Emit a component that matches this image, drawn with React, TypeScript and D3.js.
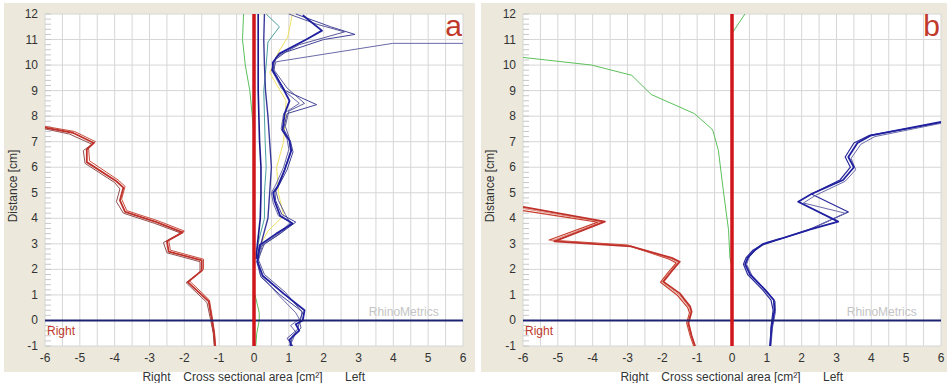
import React from 'react';
import * as d3 from 'd3';

// each trace: [distance (cm), cross sectional area (cm²)]
type Pt = [number, number];

const xTicks = [-6, -5, -4, -3, -2, -1, 0, 1, 2, 3, 4, 5, 6];
const yTicks = [-1, 0, 1, 2, 3, 4, 5, 6, 7, 8, 9, 10, 11, 12];

// ---- panel a ----
const redA1: Pt[] = [[7.55, -6], [7.35, -5.2], [6.95, -4.6], [6.7, -4.8], [6.2, -4.8], [5.45, -3.95], [5.2, -3.75], [4.7, -3.85], [4.25, -3.7], [3.85, -2.8], [3.45, -2.05], [3.1, -2.5], [2.7, -2.45], [2.35, -1.5], [1.95, -1.5], [1.5, -1.9], [0.75, -1.3], [0.1, -1.22], [-0.5, -1.15], [-1, -1.12]];
const redA2: Pt[] = [[7.5, -6], [7.3, -5.3], [6.9, -4.65], [6.65, -4.9], [6.15, -4.85], [5.4, -4.0], [5.15, -3.85], [4.65, -3.95], [4.2, -3.75], [3.8, -2.85], [3.42, -2.1], [3.05, -2.6], [2.65, -2.5], [2.3, -1.55], [1.9, -1.55], [1.48, -1.95], [0.7, -1.35], [0.05, -1.25], [-0.5, -1.17], [-1, -1.14]];
const redA3: Pt[] = [[7.6, -6], [7.4, -5.15], [7.0, -4.55], [6.75, -4.75], [6.25, -4.72], [5.5, -3.9], [5.25, -3.7], [4.75, -3.8], [4.3, -3.65], [3.9, -2.75], [3.5, -2.0], [3.15, -2.45], [2.75, -2.4], [2.4, -1.45], [2.0, -1.45], [1.55, -1.85], [0.8, -1.28], [0.15, -1.2], [-0.5, -1.13], [-1, -1.1]];

const blueA1: Pt[] = [[-1, 1.07], [-0.75, 1.02], [-0.4, 1.3], [-0.15, 1.2], [0, 1.4], [0.4, 1.45], [1.05, 0.85], [1.75, 0.25], [2.3, 0.1], [2.95, 0.16], [3.4, 0.64], [3.8, 1.11], [4.1, 0.75], [4.65, 0.6], [5.0, 0.55], [5.25, 0.68], [5.9, 0.88], [6.65, 1.07], [7.05, 1.02], [7.45, 0.82], [8.1, 0.88], [8.6, 1.02], [9.1, 0.83], [9.8, 0.54], [10.1, 0.54], [10.45, 0.73], [11.0, 1.5], [11.35, 1.95], [11.95, 1.4]];
const blueA2: Pt[] = [[-1, 1.12], [-0.7, 0.95], [-0.35, 1.25], [-0.1, 1.3], [0.1, 1.35], [0.35, 1.38], [1.0, 0.75], [1.7, 0.2], [2.3, 0.08], [2.9, 0.2], [3.35, 0.7], [3.85, 1.2], [4.15, 0.8], [4.7, 0.62], [5.0, 0.6], [5.3, 0.72], [5.9, 0.95], [6.6, 1.12], [7.0, 1.05], [7.5, 0.85], [8.1, 0.95], [8.45, 1.8], [9.0, 0.9], [9.8, 0.5], [10.2, 0.6], [10.5, 0.9], [11.0, 2.0], [11.2, 2.9], [11.5, 2.2], [12, 1.2]];
const blueA3: Pt[] = [[-1, 1.0], [-0.8, 1.1], [-0.45, 1.2], [-0.2, 1.05], [0.05, 1.3], [0.3, 1.2], [1.0, 0.7], [1.8, 0.18], [2.3, 0.12], [3.0, 0.25], [3.45, 0.75], [3.85, 1.05], [4.1, 0.7], [4.6, 0.55], [5.0, 0.5], [5.3, 0.62], [6.0, 0.85], [6.7, 1.0], [7.1, 0.95], [7.5, 0.78], [8.1, 0.85], [8.5, 1.3], [9.1, 0.78], [9.8, 0.52], [10.13, 0.64], [10.85, 3.98], [10.85, 6]];
const blueA4: Pt[] = [[-1, 1.05], [-0.6, 1.1], [-0.3, 1.35], [0, 1.3], [0.3, 1.4], [1.1, 0.9], [1.8, 0.3], [2.4, 0.12], [3.0, 0.3], [3.45, 0.8], [3.8, 1.05], [4.15, 0.9], [4.7, 0.7], [5.1, 0.62], [5.4, 0.75], [6.0, 0.9], [6.6, 1.05], [7.2, 1.0], [7.6, 0.9], [8.2, 1.0], [8.5, 1.45], [9.1, 0.95], [9.8, 0.58], [10.3, 0.62], [10.8, 1.3], [11.3, 2.6], [11.6, 1.8], [12, 1.0]];
const blueA5: Pt[] = [[2.4, 0.06], [3.0, 0.1], [4.0, 0.18], [5.0, 0.2], [6.0, 0.2], [7.0, 0.16], [8.0, 0.14], [9.0, 0.12], [10.0, 0.12], [11.0, 0.12], [12, 0.12]];
const blueA6: Pt[] = [[2.4, 0.08], [3.0, 0.2], [4.0, 0.4], [5.0, 0.45], [6.0, 0.5], [7.0, 0.45], [8.0, 0.4], [9.0, 0.33], [10.0, 0.3], [11.0, 0.28], [12, 0.3]];
const tealA: Pt[] = [[2.6, 0.05], [3.2, 0.15], [4.0, 0.3], [5.0, 0.3], [6.0, 0.35], [7.0, 0.32], [8.0, 0.3], [9.0, 0.28], [10.0, 0.35], [10.9, 0.4], [11.5, 0.73], [12, 0.35]];
const greenA: Pt[] = [[7.3, 0.0], [8.0, -0.05], [9.0, -0.12], [10.0, -0.25], [11.0, -0.33], [12, -0.3]];
const greenA2: Pt[] = [[-1, 0.05], [-0.5, 0.08], [0, 0.15], [0.3, 0.15], [0.6, 0.1], [1.0, 0.03]];
const yellowA: Pt[] = [[2.5, 0.1], [3.0, 0.2], [3.5, 0.4], [4.1, 0.85], [5.0, 0.7], [6.0, 0.65], [7.0, 0.85], [8.0, 0.9], [8.6, 0.92], [9.0, 0.75], [9.7, 0.45], [10.5, 0.7], [11.1, 0.97], [12, 1.1]];

// ---- panel b ----
const redB1: Pt[] = [[4.45, -6], [3.87, -3.65], [3.1, -5.1], [2.9, -2.9], [2.45, -1.73], [2.3, -1.5], [1.9, -1.75], [1.52, -1.97], [1.06, -1.5], [0.54, -1.2], [0.34, -1.16], [-0.1, -1.25], [-0.6, -1.16], [-1, -1.06]];
const redB2: Pt[] = [[4.3, -6], [3.85, -3.85], [3.15, -5.25], [2.95, -3.0], [2.4, -1.8], [2.25, -1.6], [1.85, -1.85], [1.5, -2.05], [1.0, -1.58], [0.5, -1.27], [0.3, -1.22], [-0.1, -1.3], [-0.6, -1.2], [-1, -1.1]];
const redB3: Pt[] = [[4.38, -6], [3.86, -3.75], [3.12, -5.18], [2.92, -2.95], [2.42, -1.76], [2.28, -1.55], [1.88, -1.8], [1.51, -2.0], [1.03, -1.54], [0.52, -1.23], [0.32, -1.19], [-0.1, -1.27], [-0.6, -1.18], [-1, -1.08]];

const blueB1: Pt[] = [[-1, 1.09], [-0.25, 1.14], [0.4, 1.22], [0.8, 1.2], [1.2, 0.95], [1.8, 0.52], [2.2, 0.38], [2.45, 0.45], [2.75, 0.65], [3.0, 0.9], [3.2, 1.4], [3.55, 2.2], [3.87, 3.05], [4.65, 1.9], [4.95, 2.28], [5.5, 3.19], [6.0, 3.5], [6.4, 3.34], [6.95, 3.6], [7.25, 4.0], [7.78, 6]];
const blueB2: Pt[] = [[-1, 1.1], [-0.25, 1.12], [0.4, 1.18], [0.8, 1.12], [1.2, 0.88], [1.8, 0.45], [2.2, 0.33], [2.45, 0.4], [2.75, 0.6], [2.95, 0.85], [3.15, 1.3], [3.54, 2.19], [4.25, 3.34], [4.95, 2.28], [5.5, 3.1], [6.0, 3.4], [6.4, 3.25], [6.95, 3.5], [7.25, 3.95], [7.75, 6]];
const blueB3: Pt[] = [[-1, 1.12], [-0.3, 1.16], [0.35, 1.25], [0.75, 1.24], [1.15, 1.0], [1.75, 0.58], [2.2, 0.42], [2.5, 0.5], [2.8, 0.72], [3.05, 1.0], [3.25, 1.5], [3.6, 2.3], [4.2, 3.25], [4.6, 2.05], [4.9, 2.4], [5.45, 3.25], [5.9, 3.55], [6.35, 3.42], [6.9, 3.7], [7.2, 4.1], [7.72, 6]];
const greenB: Pt[] = [[2.0, 0.02], [2.45, -0.06], [3.55, -0.1], [5.1, -0.25], [6.65, -0.39], [7.4, -0.54], [7.5, -0.58], [8.1, -1.08], [8.85, -2.32], [9.6, -2.88], [10.0, -4.03], [10.3, -6]];
const greenB2: Pt[] = [[11.3, 0.03], [12, 0.37]];

const FONT = "'Liberation Sans', Arial, sans-serif";

type Trace = { pts: Pt[]; color: string; width: number };

const tracesA: Trace[] = [
  { pts: greenA, color: '#5cc05c', width: 1 },
  { pts: greenA2, color: '#5cc05c', width: 1 },
  { pts: tealA, color: '#4aa0a0', width: 1 },
  { pts: yellowA, color: '#f0e060', width: 1 },
  { pts: blueA5, color: '#1a1a8a', width: 1.6 },
  { pts: blueA6, color: '#3a3a9a', width: 1.4 },
  { pts: blueA3, color: '#6a6aa8', width: 1 },
  { pts: blueA4, color: '#5a5a9a', width: 1 },
  { pts: blueA2, color: '#44449a', width: 1 },
  { pts: blueA1, color: '#1f1fa0', width: 1.8 },
  { pts: redA2, color: '#905050', width: 1 },
  { pts: redA3, color: '#c85040', width: 1 },
  { pts: redA1, color: '#c0302a', width: 1.8 },
];

const tracesB: Trace[] = [
  { pts: greenB, color: '#5cc05c', width: 1 },
  { pts: greenB2, color: '#5cc05c', width: 1 },
  { pts: redB2, color: '#c84030', width: 1.2 },
  { pts: redB3, color: '#e09080', width: 1 },
  { pts: redB1, color: '#c0302a', width: 1.8 },
  { pts: blueB2, color: '#2a2a9a', width: 1.2 },
  { pts: blueB3, color: '#6a6aa8', width: 1 },
  { pts: blueB1, color: '#1f1fa0', width: 1.8 },
];

type PanelProps = { x0: number; x1: number; plotL: number; plotR: number; tag: string; traces: Trace[] };

const Panel = ({ x0, x1, plotL, plotR, tag, traces }: PanelProps) => {
  const top = 14;
  const bottom = 346;
  const xs = d3.scaleLinear().domain([-6, 6]).range([plotL, plotR]);
  const ys = d3.scaleLinear().domain([-1, 12]).range([bottom, top]);
  const line = d3.line<Pt>().x(d => xs(d[1])).y(d => ys(d[0]));
  const halfTicks = d3.range(-6, 6.01, 0.5);
  const minor = d3.range(-1, 12.001, 0.2);
  const cx = (plotL + plotR) / 2;

  return (
    <g>
      <rect x={x0} y={3} width={x1 - x0} height={369} fill="#ece9dc" />
      <rect x={plotL} y={top} width={plotR - plotL} height={bottom - top} fill="#ffffff" />
      {halfTicks.map(v => (
        <line key={'v' + v} x1={xs(v)} x2={xs(v)} y1={top} y2={bottom} stroke="#d6d6d6" strokeWidth={1} />
      ))}
      {yTicks.map(v => (
        <line key={'h' + v} x1={plotL} x2={plotR} y1={ys(v)} y2={ys(v)} stroke="#d6d6d6" strokeWidth={1} />
      ))}
      {minor.map((v, i) => (
        <line key={'m' + i} x1={plotL} x2={plotL + 6} y1={ys(v)} y2={ys(v)} stroke="#c8c8c8" strokeWidth={1} />
      ))}
      <text x={xs(4.3)} y={ys(0) - 4} fill="#c4c4c4" fontSize={12} fontFamily={FONT} textAnchor="middle">RhinoMetrics</text>
      {traces.map((t, i) => (
        <path key={i} d={line(t.pts) || ''} fill="none" stroke={t.color} strokeWidth={t.width} strokeLinejoin="round" />
      ))}
      <line x1={plotL} x2={plotR} y1={ys(0)} y2={ys(0)} stroke="#1c2270" strokeWidth={2} />
      <line x1={xs(0)} x2={xs(0)} y1={top} y2={bottom} stroke="#d0161a" strokeWidth={3.5} />
      <text x={plotL + 2} y={ys(-0.55)} fill="#c0392b" fontSize={12} fontFamily={FONT}>Right</text>
      <text x={plotR - 1} y={36} fill="#c0392b" fontSize={30} fontFamily={FONT} textAnchor="end">{tag}</text>
      {yTicks.map(v => (
        <text key={'yl' + v} x={plotL - 7} y={ys(v) + 4} fill="#333" fontSize={12} fontFamily={FONT} textAnchor="end">{v}</text>
      ))}
      {xTicks.map(v => (
        <text key={'xl' + v} x={xs(v)} y={362} fill="#333" fontSize={12} fontFamily={FONT} textAnchor="middle">{v}</text>
      ))}
      <text transform={`translate(${x0 + 13},${(top + bottom) / 2 + 6}) rotate(-90)`} fill="#333" fontSize={12} fontFamily={FONT} textAnchor="middle">Distance [cm]</text>
      <text x={xs(-2.8)} y={381} fill="#333" fontSize={12} fontFamily={FONT} textAnchor="middle">Right</text>
      <text x={cx - 1} y={381} fill="#333" fontSize={12} fontFamily={FONT} textAnchor="middle">Cross sectional area [cm²]</text>
      <text x={xs(2.9)} y={381} fill="#333" fontSize={12} fontFamily={FONT} textAnchor="middle">Left</text>
    </g>
  );
};

export default function App() {
  return (
    <svg width={947} height={383} style={{ position: 'absolute', left: 0, top: 0, background: '#fff' }}>
      <Panel x0={4} x1={475} plotL={45} plotR={463} tag="a" traces={tracesA} />
      <Panel x0={481} x1={947} plotL={523} plotR={941} tag="b" traces={tracesB} />
    </svg>
  );
}
